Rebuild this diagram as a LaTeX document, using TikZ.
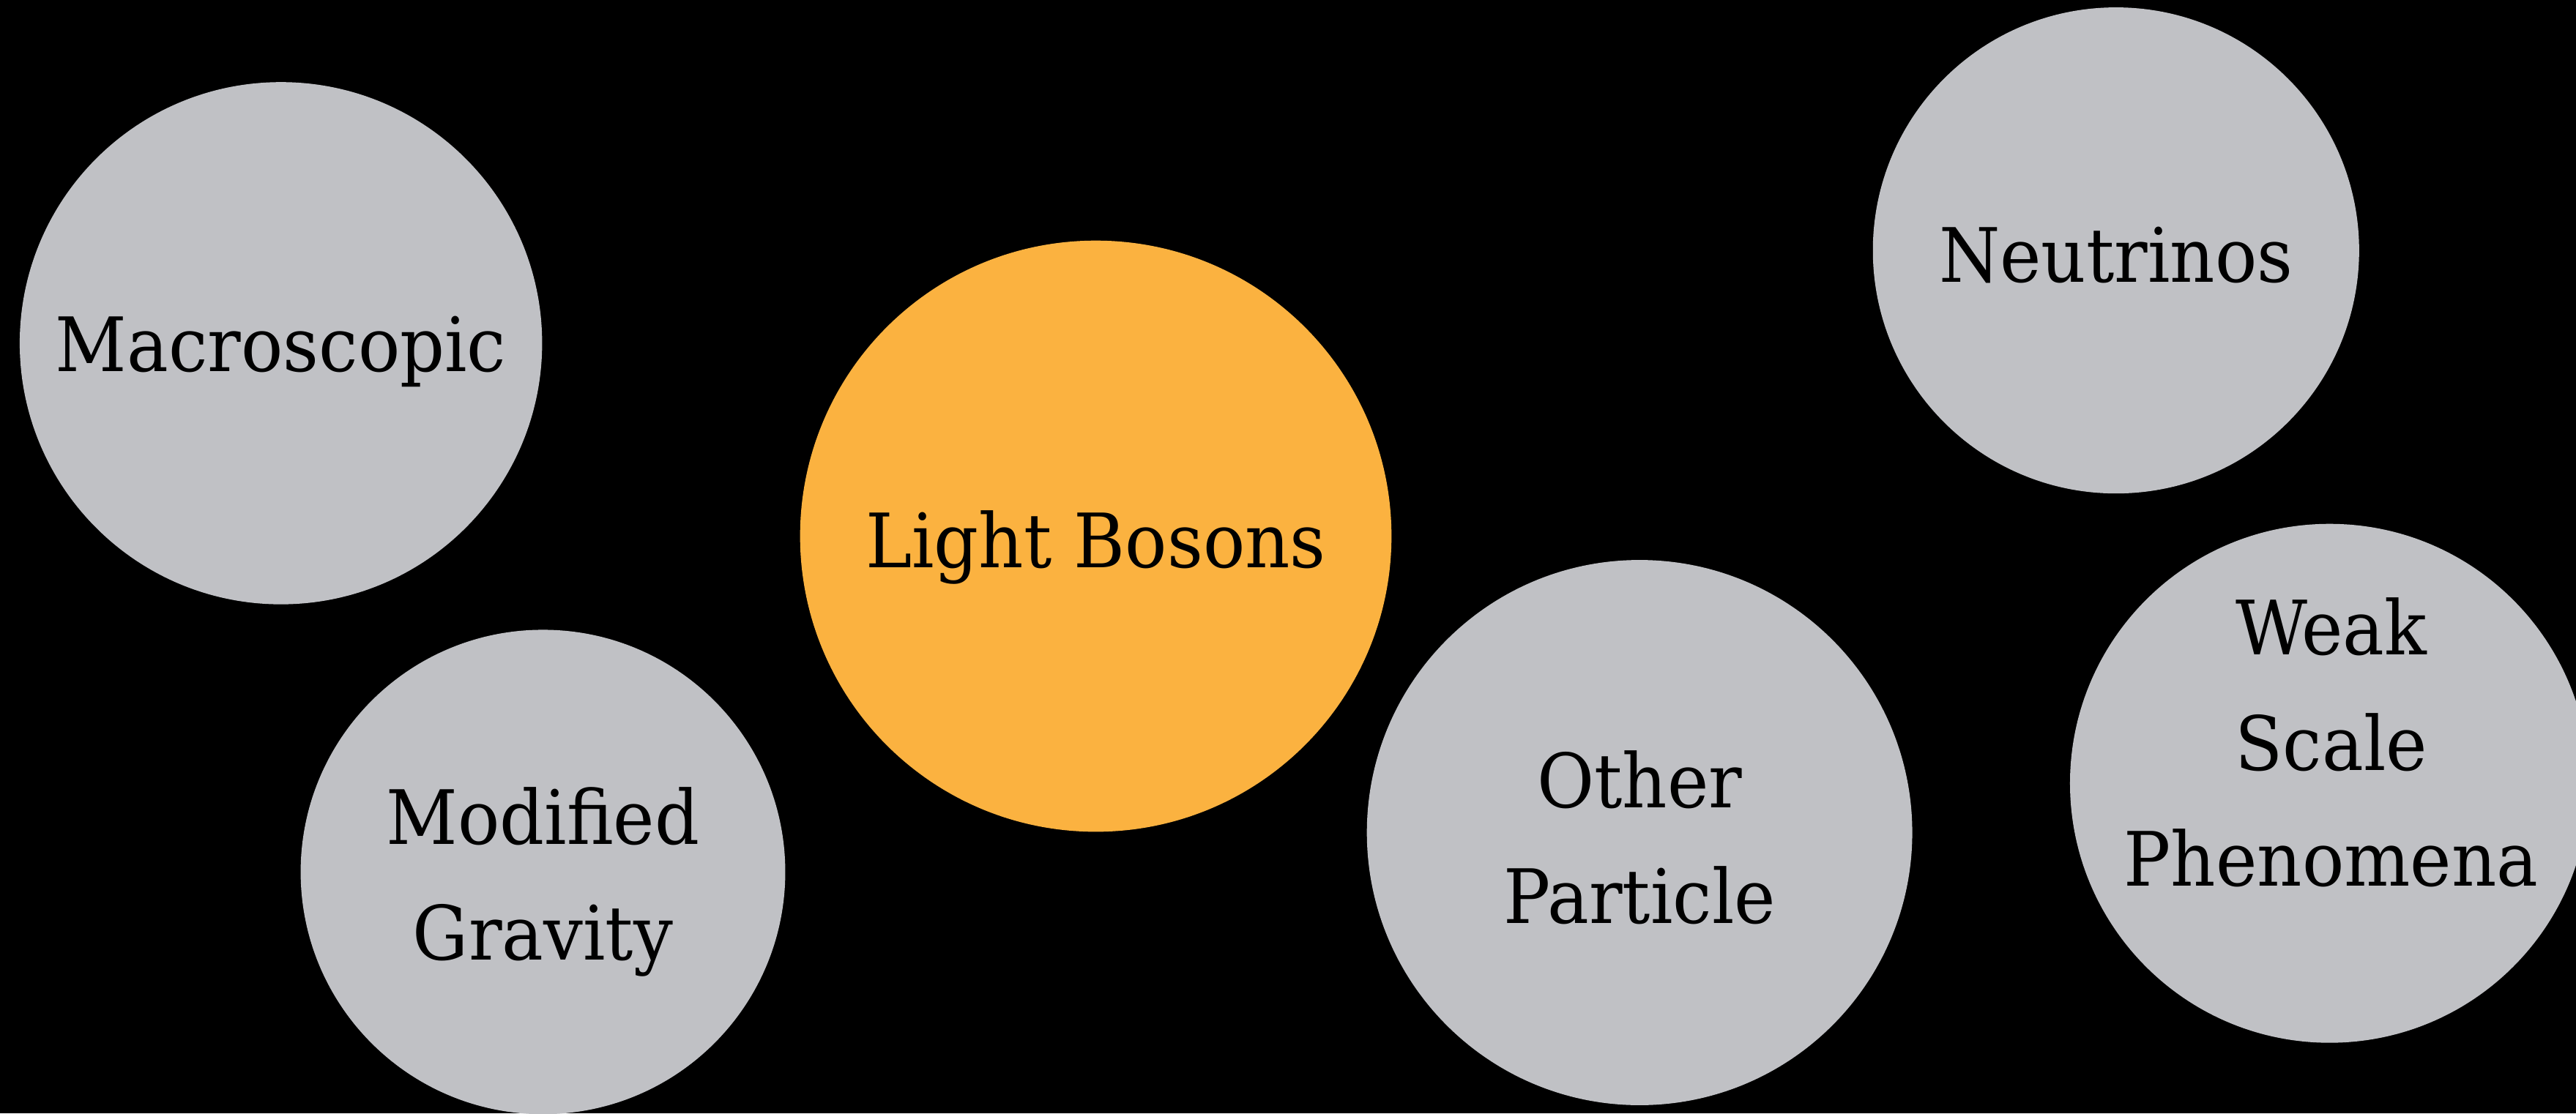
\documentclass[tikz,border=0pt]{standalone}
\usepackage{fontspec}
\setmainfont{DejaVu Serif}[FakeStretch=0.93]
\usepackage{tikz}
\usetikzlibrary{positioning}
\definecolor{bubblegray}{RGB}{192,193,197}
\definecolor{bosonorange}{RGB}{251,178,64}

\begin{document}
\begin{tikzpicture}[
    x=0.1mm, y=-0.1mm,
    bubble/.style={circle, fill=bubblegray, inner sep=0pt},
    hot/.style={bubble, fill=bosonorange},
    lbl/.style={align=center, inner sep=0pt, font=\fontsize{13}{20}\selectfont}
]
    \useasboundingbox (0,0) rectangle (1568,678);
    \clip (0,0) rectangle (1568,678);
    \fill[black] (0,0) rectangle (1568,678);

    % the bubbles
    \node[bubble, minimum size=31.8mm] (macro) at (171,209) {};
    \node[bubble, minimum size=29.5mm] (modgrav) at (330.5,531) {};
    \node[hot, minimum size=36mm] (bosons) at (667,326.5) {};
    \node[bubble, minimum size=33.2mm] (other) at (998,507) {};
    \node[bubble, minimum size=29.6mm] (neutrinos) at (1288,152.5) {};
    \node[bubble, minimum size=31.6mm] (weak) at (1418,477) {};

    % their texts
    \node[lbl] (macrotext) at ([yshift=-0.5mm]macro.center) {Macroscopic};
    \node[lbl] (modgravtext) at ([yshift=-0.6mm]modgrav.center) {Modified\\Gravity};
    \node[lbl] (bosonstext) at ([yshift=-0.7mm]bosons.center) {Light Bosons};
    \node[lbl] (othertext) at ([yshift=-0.3mm]other.center) {Other\\Particle};
    \node[lbl] (neutrinostext) at ([yshift=-0.3mm]neutrinos.center) {Neutrinos};
    \node[lbl] (weaktext) at ([xshift=0.1mm, yshift=2.5mm]weak.center) {Weak\\Scale\\Phenomena};
\end{tikzpicture}
\end{document}
